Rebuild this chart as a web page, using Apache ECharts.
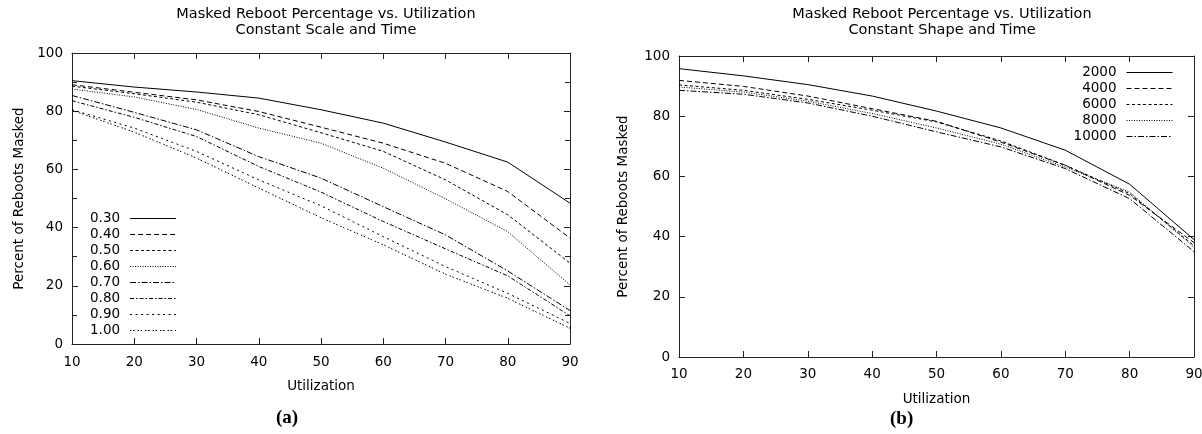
<!DOCTYPE html>
<html><head><meta charset="utf-8">
<script src="https://cdn.jsdelivr.net/npm/echarts@6/dist/echarts.min.js"></script>
<style>html,body{margin:0;padding:0;background:#fff}#c{width:1202px;height:434px}</style>
</head><body><div id="c"></div>
<script>
// ---- data ----
const utilization = [10, 20, 30, 40, 50, 60, 70, 80, 90];
const xTicks = [10, 20, 30, 40, 50, 60, 70, 80, 90];
const yTicks = [0, 20, 40, 60, 80, 100];

const scaleNames = ['0.30', '0.40', '0.50', '0.60', '0.70', '0.80', '0.90', '1.00'];
const scale030 = [90.5, 88.3, 86.6, 84.5, 80.5, 75.9, 69.4, 62.5, 48.4];
const scale040 = [89.1, 86.5, 83.9, 79.9, 74.5, 69.0, 62.1, 52.4, 36.4];
const scale050 = [88.6, 86.0, 83.1, 78.8, 72.6, 66.2, 56.4, 44.4, 27.8];
const scale060 = [87.6, 84.9, 80.6, 74.2, 69.0, 60.4, 49.9, 38.6, 20.3];
const scale070 = [85.4, 79.6, 73.6, 64.4, 57.0, 47.2, 37.5, 25.1, 11.5];
const scale080 = [83.6, 77.9, 71.3, 61.0, 52.2, 42.1, 32.7, 23.4, 9.7];
const scale090 = [80.5, 74.2, 66.2, 56.4, 47.5, 36.9, 26.6, 17.4, 7.1];
const scale100 = [80.3, 72.8, 63.9, 53.6, 43.4, 34.1, 24.0, 15.7, 5.4];

const shapeNames = ['2000', '4000', '6000', '8000', '10000'];
const shape2000 = [95.8, 93.4, 90.5, 86.7, 81.7, 76.1, 68.7, 57.4, 39.0];
const shape4000 = [91.9, 89.9, 86.7, 82.5, 78.3, 71.4, 63.7, 53.7, 38.0];
const shape6000 = [90.4, 88.6, 85.6, 82.0, 78.1, 71.8, 63.7, 54.3, 37.0];
const shape8000 = [89.7, 88.0, 85.0, 80.9, 76.1, 70.7, 63.1, 54.8, 36.5];
const shape10000 = [88.6, 87.3, 84.4, 80.0, 74.8, 69.8, 62.6, 52.6, 35.0];

const scaleValues = [scale030, scale040, scale050, scale060, scale070, scale080, scale090, scale100];
const shapeValues = [shape2000, shape4000, shape6000, shape8000, shape10000];

// ---- styles ----
const FONT = 'DejaVu Sans';
const dashes = ['solid', [5, 3], [3, 2.5], [1, 1.5], [6, 2, 1.5, 2], [4, 2, 1.5, 2], [2, 3.5], [1.5, 1.5, 1.5, 3]];
const AX = '#222';

function mkSeries(names, values, gi) {
  return names.map((n, i) => ({
    name: n, type: 'line', xAxisIndex: gi * 2, yAxisIndex: gi * 2,
    symbol: 'none', showSymbol: false, silent: true,
    lineStyle: { color: '#000', width: 1, type: dashes[i] },
    itemStyle: { color: '#000' },
    data: utilization.map((x, k) => [x, values[i][k]])
  }));
}

function xAxes(gi) {
  const base = { type: 'value', gridIndex: gi, min: xTicks[0], max: xTicks[xTicks.length - 1], interval: 10,
    splitLine: { show: false }, axisLine: { show: true, onZero: false, lineStyle: { color: AX, width: 1 } },
    axisTick: { show: true, inside: true, length: 6, lineStyle: { color: AX } } };
  return [
    Object.assign({}, base, { position: 'bottom',
      axisLabel: { color: '#000', fontFamily: FONT, fontSize: 13.5, margin: gi === 0 ? 11 : 10.5,
        formatter: v => xTicks.includes(v) ? String(v) : '' },
      name: 'Utilization', nameLocation: 'middle', nameGap: 35,
      nameTextStyle: { color: '#000', fontFamily: FONT, fontSize: 13.5 } }),
    Object.assign({}, base, { position: 'top', axisLabel: { show: false } })
  ];
}

function yAxes(gi, minor) {
  const base = { type: 'value', gridIndex: gi, min: 0, max: 100, interval: 20,
    splitLine: { show: false }, axisLine: { show: true, onZero: false, lineStyle: { color: AX, width: 1 } },
    axisTick: { show: true, inside: true, length: 6, lineStyle: { color: AX } },
    minorTick: { show: minor, splitNumber: 2, length: 5, lineStyle: { color: AX } },
    minorSplitLine: { show: false } };
  return [
    Object.assign({}, base, { position: 'left',
      axisLabel: { color: '#000', fontFamily: FONT, fontSize: 13.5, margin: 9,
        formatter: v => yTicks.includes(v) ? String(v) : '' },
      name: 'Percent of Reboots Masked', nameLocation: 'middle', nameGap: gi === 0 ? 46 : 49,
      nameTextStyle: { color: '#000', fontFamily: FONT, fontSize: 13.5 } }),
    Object.assign({}, base, { position: 'right', axisLabel: { show: false } })
  ];
}

const legendBase = {
  orient: 'vertical', align: 'right', padding: 0, itemGap: 0, itemWidth: 46, itemHeight: 16,
  selectedMode: false,
  itemStyle: { color: 'rgba(0,0,0,0)', borderColor: 'rgba(0,0,0,0)', borderWidth: 0, opacity: 0 },
  lineStyle: { width: 1 },
  textStyle: { color: '#000', fontFamily: FONT, fontSize: 13.5, lineHeight: 16, padding: [0, 5, 0, 0] }
};

const chart = echarts.init(document.getElementById('c'), null, { renderer: 'canvas' });
chart.setOption({
  animation: false,
  backgroundColor: '#fff',
  title: [
    { text: 'Masked Reboot Percentage vs. Utilization\nConstant Scale and Time', left: 321, top: 1, textAlign: 'center',
      textStyle: { color: '#000', fontFamily: FONT, fontSize: 14.5, fontWeight: 'normal', lineHeight: 16 } },
    { text: 'Masked Reboot Percentage vs. Utilization\nConstant Shape and Time', left: 937, top: 1, textAlign: 'center',
      textStyle: { color: '#000', fontFamily: FONT, fontSize: 14.5, fontWeight: 'normal', lineHeight: 16 } }
  ],
  grid: [
    { left: 72, top: 53, width: 498, height: 291, outerBoundsMode: 'none', containLabel: false },
    { left: 679, top: 56, width: 515, height: 301, outerBoundsMode: 'none', containLabel: false }
  ],
  xAxis: [...xAxes(0), ...xAxes(1)],
  yAxis: [...yAxes(0, true), ...yAxes(1, false)],
  legend: [
    Object.assign({}, legendBase, { data: scaleNames, left: 90, top: 210.5 }),
    Object.assign({}, legendBase, { data: shapeNames, right: 29, top: 64.5 })
  ],
  graphic: [
    { type: 'text', left: 276, top: 409, style: { text: '(a)', fill: '#000', font: 'bold 19px "Liberation Serif"' } },
    { type: 'text', left: 890, top: 410, style: { text: '(b)', fill: '#000', font: 'bold 19px "Liberation Serif"' } }
  ],
  series: [...mkSeries(scaleNames, scaleValues, 0), ...mkSeries(shapeNames, shapeValues, 1)]
});
</script></body></html>
